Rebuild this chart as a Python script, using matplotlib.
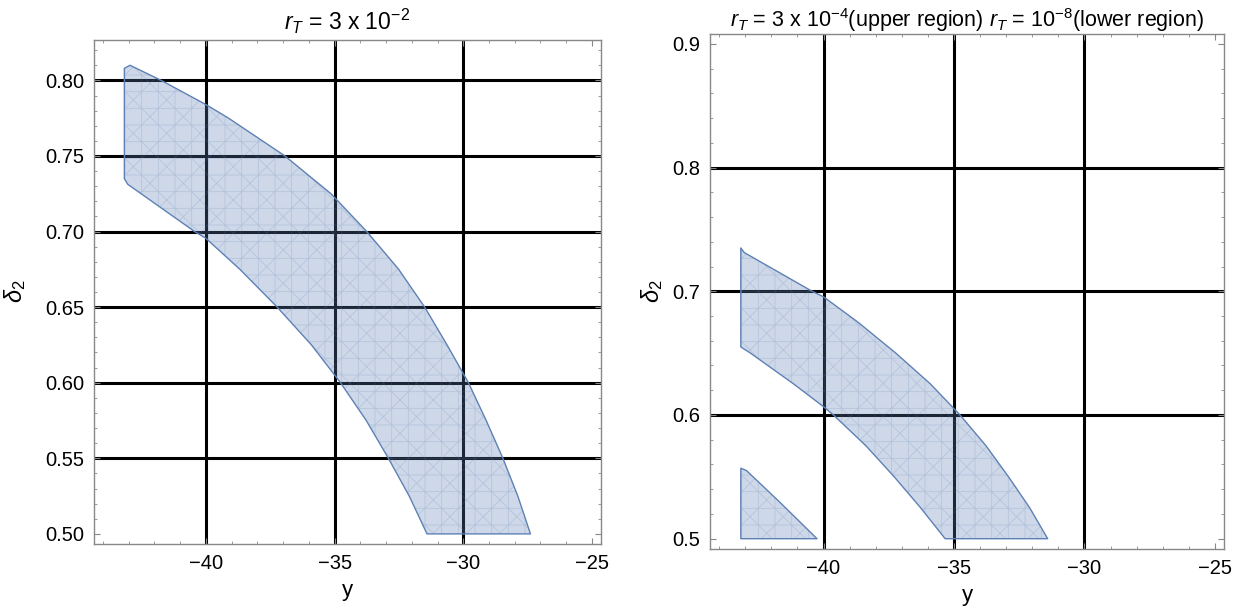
import numpy as np
import matplotlib
matplotlib.use("Agg")
import matplotlib.pyplot as plt
from matplotlib.patches import Polygon
from matplotlib.ticker import MultipleLocator, FuncFormatter

plt.rcParams['font.family'] = ['Liberation Sans', 'DejaVu Sans']
plt.rcParams['mathtext.fontset'] = 'custom'
plt.rcParams['mathtext.rm'] = 'Liberation Sans'
plt.rcParams['mathtext.it'] = 'Liberation Sans:italic'
plt.rcParams['hatch.linewidth'] = 0.6

# ---- data: boundary curves (y, delta_2) ----
# r_T = 3e-2, upper edge
up1_y = [-43.17, -42.95, -41.74, -40.0, -39.12, -36.93, -35.14, -33.75, -32.51,
         -31.5, -30.63, -29.8, -29.11, -28.46, -27.88, -27.39]
up1_d = [0.808, 0.810, 0.800, 0.784, 0.775, 0.750, 0.725, 0.700, 0.675,
         0.650, 0.625, 0.600, 0.575, 0.550, 0.525, 0.500]
# edge shared by both panels (lower edge of r_T = 3e-2, upper edge of r_T = 3e-4)
mid_y = [-43.17, -43.04, -40.44, -40.0, -38.68, -37.23, -35.9, -34.77, -33.77,
         -32.91, -32.1, -31.41]
mid_d = [0.735, 0.7313, 0.700, 0.6955, 0.675, 0.650, 0.625, 0.600, 0.575,
         0.550, 0.525, 0.500]
# r_T = 3e-4, lower edge
low2_y = [-43.17, -42.8, -41.14, -40.0, -39.62, -38.37, -37.29, -36.28, -35.34]
low2_d = [0.655, 0.650, 0.625, 0.6067, 0.600, 0.575, 0.550, 0.525, 0.500]
# r_T = 1e-8, small region
tri_y = [-43.17, -43.17, -40.25, -41.7, -42.95]
tri_d = [0.557, 0.500, 0.500, 0.530, 0.555]

grid_x = [-40, -35, -30]
grid_y1 = [0.55, 0.60, 0.65, 0.70, 0.75, 0.80]
grid_y2 = [0.6, 0.7, 0.8]

col = (0.368, 0.507, 0.710)


def band(top_y, top_d, bot_y, bot_d):
    xs = list(top_y) + list(bot_y[::-1])
    ys = list(top_d) + list(bot_d[::-1])
    return np.column_stack([xs, ys])


def draw_region(ax, pts):
    ax.add_patch(Polygon(pts, closed=True, facecolor=col, alpha=0.3,
                         edgecolor='none', zorder=3))
    ax.add_patch(Polygon(pts, closed=True, facecolor='none', hatch='+x',
                         edgecolor=col + (0.22,), linewidth=0, zorder=3))
    ax.add_patch(Polygon(pts, closed=True, facecolor='none',
                         edgecolor=col, linewidth=1.0, zorder=4,
                         joinstyle='round'))


def fmt(n):
    return FuncFormatter(lambda v, p: f'{v:.{n}f}'.replace('-', '\u2212'))


def style(ax, gx, gy):
    for v in gx:
        ax.axvline(v, color='black', lw=2.2, zorder=1)
    for v in gy:
        ax.axhline(v, color='black', lw=2.2, zorder=1)
    for s in ax.spines.values():
        s.set_color('#888888')
        s.set_linewidth(1.0)
    ax.tick_params(which='both', direction='in', top=True, right=True,
                   colors='#888888', labelcolor='black', labelsize=14.5, pad=7)
    ax.tick_params(which='major', length=4, width=0.8)
    ax.tick_params(which='minor', length=2.5, width=0.6)
    ax.xaxis.set_major_locator(MultipleLocator(5))
    ax.xaxis.set_minor_locator(MultipleLocator(1))
    ax.xaxis.set_major_formatter(fmt(0))
    ax.set_xlim(-44.35, -24.65)
    ax.set_xlabel('y', fontsize=16, labelpad=5)


fig = plt.figure(figsize=(12.45, 6.07), dpi=100)

# left panel
ax1 = fig.add_axes([0.0755, 0.104, 0.4072, 0.8308])
style(ax1, grid_x, grid_y1)
draw_region(ax1, band(up1_y, up1_d, mid_y, mid_d))
ax1.set_ylim(0.4934, 0.827)
ax1.yaxis.set_major_locator(MultipleLocator(0.05))
ax1.yaxis.set_minor_locator(MultipleLocator(0.01))
ax1.yaxis.set_major_formatter(fmt(2))
ax1.set_ylabel(r'$\delta_2$', fontsize=17, labelpad=12)
ax1.set_title(r'$r_T$ = 3 x 10$^{-2}$', fontsize=16.5, pad=7)

# right panel
ax2 = fig.add_axes([0.5703, 0.0956, 0.4129, 0.8485])
style(ax2, grid_x, grid_y2)
draw_region(ax2, band(mid_y, mid_d, low2_y, low2_d))
draw_region(ax2, np.column_stack([tri_y, tri_d]))
ax2.set_ylim(0.4917, 0.908)
ax2.yaxis.set_major_locator(MultipleLocator(0.1))
ax2.yaxis.set_minor_locator(MultipleLocator(0.02))
ax2.yaxis.set_major_formatter(fmt(1))
ax2.set_ylabel(r'$\delta_2$', fontsize=17, labelpad=5)
ax2.set_title(r'$r_T$ = 3 x 10$^{-4}$(upper region) $r_T$ = 10$^{-8}$(lower region)',
              fontsize=15.5, pad=5)

fig.savefig('out.png', dpi=100)
